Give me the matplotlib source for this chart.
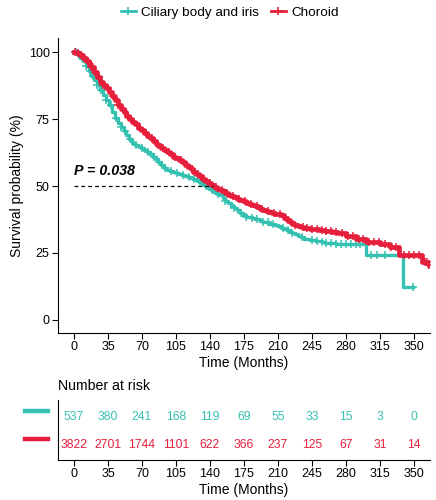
import numpy as np
import matplotlib
matplotlib.use("Agg")
import matplotlib.pyplot as plt
from matplotlib.lines import Line2D

plt.rcParams['font.family'] = ['Liberation Sans', 'DejaVu Sans']

teal = "#35C1B1"
red = "#E6203C"

groups = ["Ciliary body and iris", "Choroid"]

# step curves (time in months, survival %)
cil_t = [0, 3, 6, 9, 12, 15, 18, 21, 24, 27, 30, 33, 36, 39, 42, 45, 48, 51, 54, 57, 60,
         63, 66, 69, 72, 75, 78, 81, 84, 87, 90, 93, 96, 99, 102, 105, 108, 111, 114, 117,
         120, 123, 126, 129, 132, 135, 138, 141, 144, 147, 150, 153, 156, 159, 162, 165,
         168, 171, 174, 177, 180, 183, 186, 189, 192, 195, 198, 201, 204, 207, 210, 213,
         216, 219, 222, 225, 228, 231, 234, 237, 240, 243, 246, 249, 252, 255, 258, 262,
         270, 285, 301, 339, 349]
cil_s = [100, 99.3, 98, 96.6, 94.8, 93, 91.2, 89.5, 87.6, 86, 84, 82, 80.2, 77.8, 75.5,
         73.5, 72, 70.5, 69, 67.6, 66, 65.3, 64.8, 64.3, 63.5, 62.6, 61.8, 61, 60, 58.9,
         57.8, 56.8, 56, 55.6, 55.2, 54.9, 54.6, 54.3, 53.9, 53.4, 53, 52.6, 52.2, 51.5,
         50.8, 50.1, 49.3, 48.6, 47.9, 47.2, 46.5, 45.4, 44.5, 43.5, 42.6, 41.7, 40.9, 40,
         39.2, 38.6, 38.3, 38, 37.8, 37.5, 37.1, 36.7, 36.4, 36, 35.7, 35.3, 35, 34.5, 34,
         33.6, 33, 32.5, 32, 31.3, 30.8, 30.4, 30.1, 29.9, 29.7, 29.5, 29.3, 29, 28.8, 28.6,
         28.4, 28.3, 24.3, 12.2, 12.2]
cho_t = [0, 3, 6, 9, 12, 15, 18, 21, 24, 27, 30, 33, 36, 39, 42, 45, 48, 51, 54, 57, 60,
         63, 66, 69, 72, 75, 78, 81, 84, 87, 90, 93, 96, 99, 102, 105, 108, 111, 114, 117,
         120, 123, 126, 129, 132, 135, 138, 141, 144, 147, 150, 153, 156, 159, 162, 165,
         168, 171, 174, 177, 180, 183, 186, 189, 192, 195, 198, 201, 204, 207, 210, 213,
         216, 219, 222, 225, 228, 231, 234, 237, 240, 243, 246, 249, 252, 255, 258, 266,
         272, 280, 290, 301, 315, 325, 335, 358, 366]
cho_s = [100, 99.6, 98.9, 98, 96.8, 95.5, 94.3, 92.7, 90.8, 89, 87.8, 86.6, 85, 83.6, 82,
         80.3, 78.8, 77.5, 76.3, 75, 74, 73, 71.8, 70.8, 69.7, 68.7, 67.8, 66.8, 65.8, 65,
         64.1, 63.3, 62.6, 61.8, 61, 60.5, 59.8, 59, 58, 57.2, 56.4, 55.4, 54.5, 53.8, 52.8,
         52, 51.2, 50.4, 49.8, 49, 48.5, 48, 47.4, 46.8, 46.3, 45.8, 45.3, 44.8, 44.3, 43.8,
         43.3, 42.8, 42.4, 42, 41.6, 41.2, 40.8, 40.4, 40, 39.7, 39.4, 39.1, 38.2, 37.3,
         36.5, 35.9, 35.4, 35, 34.7, 34.5, 34.2, 34, 33.9, 33.8, 33.6, 33.5, 33.3, 33, 32.3,
         31.5, 30.3, 29.2, 28.5, 27.4, 24.3, 21.6, 20.5]

# censor times
cil_cens = [2, 5, 8, 12, 16, 20, 24, 28, 33, 38, 43, 48, 53, 58, 64, 70, 76, 82, 88, 94,
            100, 106, 112, 118, 124, 130, 136, 142, 148, 156, 165, 172, 177, 183, 188, 195,
            200, 205, 215, 220, 225, 235, 245, 250, 255, 260, 265, 270, 275, 280, 285, 290,
            295, 306, 312, 320, 349]
cho_cens = [1, 4, 7, 10, 14, 18, 22, 26, 30, 35, 40, 45, 50, 56, 62, 68, 74, 80, 86, 92,
            98, 104, 110, 116, 122, 128, 134, 140, 146, 152, 158, 164, 170, 176, 182, 188,
            194, 200, 206, 212, 220, 228, 236, 240, 245, 250, 255, 260, 265, 270, 276, 282,
            287, 293, 298, 304, 309, 314, 320, 326, 332, 340, 345, 350, 355, 361, 364, 366]

times = [0, 35, 70, 105, 140, 175, 210, 245, 280, 315, 350]
cil_risk = [537, 380, 241, 168, 119, 69, 55, 33, 15, 3, 0]
cho_risk = [3822, 2701, 1744, 1101, 622, 366, 237, 125, 67, 31, 14]
p_text = "P = 0.038"

fig = plt.figure(figsize=(4.36, 5.0), dpi=100)
ax = fig.add_axes([0.133, 0.334, 0.853, 0.59])


def step_at(t, ts, ss):
    i = np.searchsorted(ts, t, side="right") - 1
    return np.asarray(ss)[i]


for ts, ss, cens, col, lw in [(cil_t, cil_s, cil_cens, teal, 2.4),
                              (cho_t, cho_s, cho_cens, red, 3.4)]:
    ax.step(ts, ss, where="post", color=col, lw=lw)
    ax.plot(cens, step_at(cens, ts, ss), ls="none", marker="+", ms=5.5, mew=1.1, color=col)

ax.plot([0, 143], [50, 50], ls="--", color="black", lw=0.9, dashes=(3, 2.5))
ax.text(0, 55.5, p_text, fontsize=10.3, fontweight="bold", fontstyle="italic", va="center")

ax.set_xlim(-16.5, 366.5)
ax.set_ylim(-4.9, 105.3)
ax.set_xticks(times)
ax.set_yticks([0, 25, 50, 75, 100])
ax.set_xlabel("Time (Months)", fontsize=10, labelpad=2)
ax.set_ylabel("Survival probability (%)", fontsize=10, labelpad=3)
for s in ["top", "right"]:
    ax.spines[s].set_visible(False)
ax.tick_params(labelsize=9, length=4, width=0.8, pad=2)

handles = [Line2D([], [], color=c, lw=2, marker="+", ms=6, mew=1.2) for c in (teal, red)]
fig.legend(handles, groups, loc="center", bbox_to_anchor=(0.527, 0.975), ncol=2,
           frameon=False, fontsize=9.7, handlelength=1.1, handletextpad=0.4,
           columnspacing=0.9)

# risk table
rax = fig.add_axes([0.133, 0.08, 0.853, 0.12])
rax.set_xlim(-16.5, 366.5)
rax.set_ylim(0.464, 2.607)
for t, a, b in zip(times, cil_risk, cho_risk):
    rax.text(t, 2, str(a), color=teal, ha="center", va="center", fontsize=8.7)
    rax.text(t, 1, str(b), color=red, ha="center", va="center", fontsize=8.7)
rax.set_xticks(times)
rax.set_yticks([])
for s in ["top", "right"]:
    rax.spines[s].set_visible(False)
rax.tick_params(labelsize=9, length=4, width=0.8, pad=2)
rax.set_xlabel("Time (Months)", fontsize=10, labelpad=2)
rax.text(0.0, 1.12, "Number at risk", transform=rax.transAxes, fontsize=10.2, va="bottom")
for yv, col in [(2.2, teal), (1.2, red)]:
    rax.plot([-0.089, -0.027], [yv, yv], color=col, lw=3.2, clip_on=False,
             transform=rax.get_yaxis_transform())

fig.savefig("out.png", dpi=100)
